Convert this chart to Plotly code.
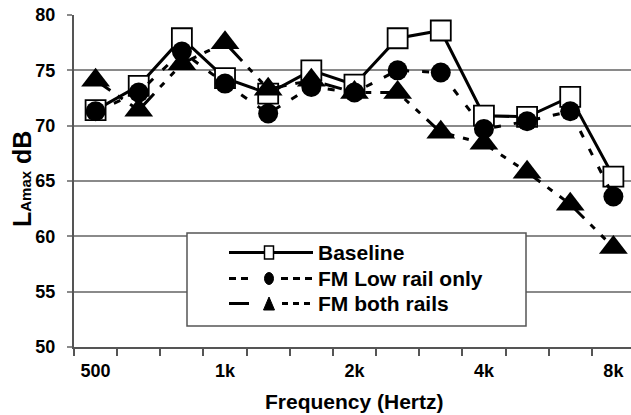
import plotly.graph_objects as go

# One-third-octave band centre frequencies (category axis)
bands = ["500", "630", "800", "1k", "1.25k", "1.6k", "2k", "2.5k",
         "3.15k", "4k", "5k", "6.3k", "8k"]
tick_labels = {"500": "500", "1k": "1k", "2k": "2k", "4k": "4k", "8k": "8k"}

# L_Amax per band, dB
baseline = [71.4, 73.6, 77.9, 74.3, 72.9, 75.0, 73.7, 77.9, 78.6, 70.9, 70.8, 72.6, 65.4]
fm_low_rail = [71.3, 73.0, 76.7, 73.8, 71.1, 73.5, 73.0, 75.0, 74.8, 69.7, 70.4, 71.3, 63.6]
fm_both_rails = [74.1, 71.4, 75.6, 77.5, 73.3, 74.1, 73.0, 73.0, 69.4, 68.4, 65.8, 62.9, 59.0]

series_names = ["Baseline", "FM Low rail only", "FM both rails"]

FONT = "Liberation Sans, Arial, sans-serif"
W, H = 631, 415
ML, MR, MT, MB = 74, 0, 15, 68
PW, PH = W - ML - MR, H - MT - MB

DASH_LOW = "7px,13px"
DASH_BOTH = "18px,9px,6px,9px,6px,9px"


def bold(size):
    return dict(family=FONT, size=size, color="black", weight="bold")


x = list(range(len(bands)))
fig = go.Figure()

fig.add_trace(go.Scatter(
    x=x, y=baseline, name=series_names[0], mode="lines+markers",
    line=dict(color="black", width=3),
    marker=dict(symbol="square", size=20, color="white",
                line=dict(color="black", width=1.8)),
))
fig.add_trace(go.Scatter(
    x=x, y=fm_low_rail, name=series_names[1], mode="lines+markers",
    line=dict(color="black", width=3, dash=DASH_LOW),
    marker=dict(symbol="circle", size=20, color="black"),
))
fig.add_trace(go.Scatter(
    x=x, y=fm_both_rails, name=series_names[2], mode="lines+markers",
    line=dict(color="black", width=3, dash=DASH_BOTH),
    marker=dict(symbol="triangle-up", size=25, color="black"),
))


def px_x(px):
    return (px - ML) / PW


def px_y(py):
    return (H - MB - py) / PH


# Hand-built legend box
shapes = []
annotations = []
box = dict(x0=187, x1=526, y0=233, y1=326)
shapes.append(dict(type="rect", xref="paper", yref="paper", layer="above",
                   x0=px_x(box["x0"]), x1=px_x(box["x1"]),
                   y0=px_y(box["y1"]), y1=px_y(box["y0"]),
                   fillcolor="white", line=dict(color="#555555", width=1.5)))
row_y = [252.5, 278.5, 303.5]
mark_x, text_x = 269, 316
# (left segment, right segment) line styles per legend row
segments = [
    [((229, 313), "solid")],
    [((229, 250), "7px,5px"), ((281, 313), "7px,5px")],
    [((229, 249), "solid"), ((282, 313), "6px,5px")],
]
for i, name in enumerate(series_names):
    yy = px_y(row_y[i])
    for (a, b), dash in segments[i]:
        shapes.append(dict(type="line", xref="paper", yref="paper", layer="above",
                           x0=px_x(a), x1=px_x(b), y0=yy, y1=yy,
                           line=dict(color="black", width=3, dash=dash)))
    annotations.append(dict(text=name, x=px_x(text_x), y=yy, xref="paper", yref="paper",
                            xanchor="left", yanchor="middle", showarrow=False,
                            font=bold(21)))
# legend glyphs
cy = row_y[0]
shapes.append(dict(type="rect", xref="paper", yref="paper", layer="above",
                   x0=px_x(mark_x - 4.5), x1=px_x(mark_x + 4.5),
                   y0=px_y(cy + 6.5), y1=px_y(cy - 6.5),
                   fillcolor="white", line=dict(color="black", width=1.5)))
cy = row_y[1]
shapes.append(dict(type="circle", xref="paper", yref="paper", layer="above",
                   x0=px_x(mark_x - 4.5), x1=px_x(mark_x + 4.5),
                   y0=px_y(cy + 6), y1=px_y(cy - 6),
                   fillcolor="black", line=dict(color="black", width=1)))
cy = row_y[2]
shapes.append(dict(type="path", xref="paper", yref="paper", layer="above",
                   path="M {a},{b} L {c},{d} L {e},{f} Z".format(
                       a=px_x(mark_x - 5.5), b=px_y(cy + 6.5),
                       c=px_x(mark_x + 5.5), d=px_y(cy + 6.5),
                       e=px_x(mark_x), f=px_y(cy - 6.5)),
                   fillcolor="black", line=dict(color="black", width=1)))

# Axis titles
annotations.append(dict(text="Frequency (Hertz)", x=px_x(354), y=px_y(401),
                        xref="paper", yref="paper", xanchor="center", yanchor="middle",
                        showarrow=False, font=bold(21)))
annotations.append(dict(text="L<span style='font-size:15px'>Amax</span> dB",
                        x=px_x(22), y=px_y(179), xref="paper", yref="paper",
                        xanchor="center", yanchor="middle", textangle=-90,
                        showarrow=False, font=bold(25)))

label_pos = [bands.index(b) for b in tick_labels]
px_per_cat = 43.15
x_right = PW / px_per_cat - 0.5

fig.update_layout(
    width=W, height=H,
    margin=dict(l=ML, r=MR, t=MT, b=MB, pad=0),
    paper_bgcolor="white", plot_bgcolor="white",
    showlegend=False,
    font=dict(family=FONT, color="black"),
    shapes=shapes, annotations=annotations,
    xaxis=dict(
        range=[-0.5, x_right], tickmode="array", tickvals=label_pos,
        ticktext=[tick_labels[bands[i]] for i in label_pos],
        ticks="", showgrid=False, zeroline=False,
        showline=True, linecolor="#555555", linewidth=2,
        tickfont=bold(18),
        ticklabelstandoff=6,
        minor=dict(tickmode="array", tickvals=[i - 0.5 for i in range(len(bands) + 1)],
                   ticks="outside", ticklen=7, tickwidth=1.5, tickcolor="#555555",
                   showgrid=False),
    ),
    yaxis=dict(
        range=[50, 80], dtick=5, tick0=50,
        showgrid=True, gridcolor="#8a8a8a", gridwidth=1.5,
        zeroline=False, showline=True, linecolor="#555555", linewidth=2,
        ticks="outside", ticklen=5, tickwidth=1.5, tickcolor="#8a8a8a",
        tickfont=bold(18),
        ticklabelstandoff=8,
    ),
)

fig.write_html("out.html")
